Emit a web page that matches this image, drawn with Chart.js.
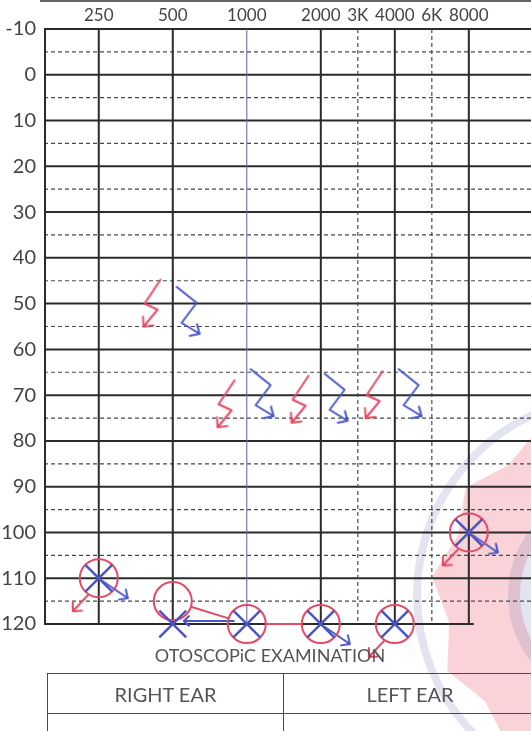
<!DOCTYPE html>
<html>
<head>
<meta charset="utf-8">
<script src="https://cdn.jsdelivr.net/npm/chart.js@4/dist/chart.umd.min.js"></script>
<style>
  html, body { margin: 0; padding: 0; background: #fff; }
  #wrap { position: relative; width: 531px; height: 731px; overflow: hidden; }
  #audiogram { position: absolute; left: 0; top: 0; }
  .title { position: absolute; left: 0; top: 644px; width: 540px; text-align: center;
           font: 18px Lato, sans-serif; color: #555; }
  table.ears { position: absolute; left: 47px; top: 673px; width: 490px; border-collapse: collapse;
               font-family: Lato, sans-serif; color: #555; }
  table.ears td { border: 1.5px solid #4a4a4a; text-align: center; font-size: 20px; padding: 0; }
  table.ears tr.head td { height: 39px; }
  table.ears tr.body td { height: 60px; }
</style>
</head>
<body>
<div id="wrap">
  <canvas id="audiogram" width="531" height="731"></canvas>
  <div class="title">OTOSCOPiC EXAMINATION</div>
  <table class="ears">
    <tr class="head"><td style="width:235px">RIGHT EAR</td><td>LEFT EAR</td></tr>
    <tr class="body"><td></td><td></td></tr>
  </table>
</div>
<script>
// frequency columns: octave step from 250 Hz, 3K and 6K sit half way
const freqLabels = ['250', '500', '1000', '2000', '3K', '4000', '6K', '8000'];
const freqSteps = [0, 1, 2, 3, 3.5, 4, 4.5, 5];
const dbTicks = [-10, 0, 10, 20, 30, 40, 50, 60, 70, 80, 90, 100, 110, 120];
const dbHalfLines = [-5, 5, 15, 25, 35, 45, 55, 65, 75, 85, 95, 105, 115];

// air conduction: right ear (red O), left ear (blue X)
const airSteps = [0, 1, 2, 3, 4, 5];
const rightAirDb = [110, 115, 120, 120, 120, 100];
const leftAirDb = [110, 120, 120, 120, 120, 100];

// no response arrows
const rightNoRespSteps = [0, 4, 5];
const rightNoRespDb = [110, 120, 100];
const leftNoRespSteps = [0, 3, 5];
const leftNoRespDb = [110, 120, 100];

// bone conduction zigzags
const boneSteps = [1, 2, 3, 4];
const rightBoneDb = [50, 72, 71, 70];
const leftBoneDb = [52, 70, 71, 70];

// symbols joined by a line
const rightJoinSteps = [1, 2, 3];
const leftJoinSteps = [2, 1];

const RED = '#e44a66';
const BLUE = '#4a56c6';

const arrowHead = (g, x0, y0, x1, y1, len) => {
    const a = Math.atan2(y1 - y0, x1 - x0);
    g.moveTo(x1, y1);
    g.lineTo(x1 - len * Math.cos(a - 0.75), y1 - len * Math.sin(a - 0.75));
    g.moveTo(x1, y1);
    g.lineTo(x1 - len * Math.cos(a + 0.75), y1 - len * Math.sin(a + 0.75));
};

// arrow drawn out of the symbol centre, canvas centred on the point
const noRespStyle = (color, x0, y0, x1, y1) => {
    const c = document.createElement('canvas');
    c.width = 80; c.height = 80;
    const g = c.getContext('2d');
    g.strokeStyle = color; g.lineWidth = 2; g.lineCap = 'round';
    g.beginPath();
    g.moveTo(40 + x0, 40 + y0);
    g.lineTo(40 + x1, 40 + y1);
    arrowHead(g, 40 + x0, 40 + y0, 40 + x1, 40 + y1, 9);
    g.stroke();
    return c;
};

const zigzagStyle = (color, right) => {
    const c = document.createElement('canvas');
    c.width = 34; c.height = 60;
    const g = c.getContext('2d');
    g.strokeStyle = color; g.lineWidth = 2; g.lineCap = 'round'; g.lineJoin = 'round';
    g.beginPath();
    if (right) {
        g.moveTo(24, 6); g.lineTo(8, 30); g.lineTo(21, 36); g.lineTo(7, 53);
        arrowHead(g, 21, 36, 7, 53, 10);
    } else {
        g.moveTo(6, 4); g.lineTo(26, 20); g.lineTo(11, 40); g.lineTo(29, 51);
        arrowHead(g, 11, 40, 29, 51, 10);
    }
    g.stroke();
    return c;
};

const points = (steps, values, shift) =>
    steps.map((s, i) => ({ x: s + (shift || 0), y: values[i] }));

const paperPlugin = {
    id: 'paper',
    beforeDraw(chart) {
        const ctx = chart.ctx;
        ctx.save();
        ctx.fillStyle = '#fff';
        ctx.fillRect(0, 0, chart.width, chart.height);
        // faint seal printed in the corner of the form
        const cx = 615, cy = 595;
        ctx.fillStyle = 'rgba(236, 96, 116, 0.28)';
        ctx.beginPath();
        for (let i = 0; i <= 24; i++) {
            const ang = (i * Math.PI) / 12 + 0.1;
            const r = i % 2 ? 168 : 184;
            ctx.lineTo(cx + r * Math.cos(ang), cy + r * Math.sin(ang));
        }
        ctx.fill();
        ctx.fillStyle = '#fff';
        ctx.beginPath(); ctx.arc(cx, cy, 95, 0, Math.PI * 2); ctx.fill();
        ctx.strokeStyle = 'rgba(110, 118, 175, 0.2)';
        ctx.lineWidth = 8;
        ctx.beginPath(); ctx.arc(cx, cy, 198, 0, Math.PI * 2); ctx.stroke();
        ctx.lineWidth = 24;
        ctx.beginPath(); ctx.arc(cx, cy, 95, 0, Math.PI * 2); ctx.stroke();
        ctx.restore();
        ctx.save();
        ctx.strokeStyle = '#333';
        ctx.lineWidth = 1.5;
        ctx.beginPath(); ctx.moveTo(40, 1); ctx.lineTo(chart.width, 1); ctx.stroke();
        ctx.restore();
    }
};

const gridPlugin = {
    id: 'audioGrid',
    beforeDatasetsDraw(chart) {
        const { ctx, chartArea: a, scales: { x, y } } = chart;
        ctx.save();
        ctx.lineCap = 'butt';
        const hLine = (db, dashed, right) => {
            const py = y.getPixelForValue(db);
            ctx.setLineDash(dashed ? [4, 3] : []);
            ctx.lineWidth = dashed ? 1.2 : 2;
            ctx.strokeStyle = dashed ? '#4a4a4a' : '#2b2b2b';
            ctx.beginPath(); ctx.moveTo(a.left, py); ctx.lineTo(right, py); ctx.stroke();
        };
        dbHalfLines.forEach((db) => hLine(db, true, a.right));
        dbTicks.forEach((db, i) => {
            // the bottom rule stops just past the 8000 column
            const last = i === dbTicks.length - 1;
            hLine(db, false, last ? x.getPixelForValue(5) + 5 : a.right);
        });
        const vLine = (px, dashed, color, width) => {
            ctx.setLineDash(dashed ? [4, 3] : []);
            ctx.lineWidth = width;
            ctx.strokeStyle = color;
            ctx.beginPath(); ctx.moveTo(px, a.top); ctx.lineTo(px, a.bottom); ctx.stroke();
        };
        vLine(a.left + 1, false, '#2b2b2b', 2);
        freqSteps.forEach((s) => {
            const px = x.getPixelForValue(s);
            if (s % 1) vLine(px, true, '#4a4a4a', 1.2);
            else if (s === 2) vLine(px, false, '#6c6ca6', 1.1);
            else vLine(px, false, '#2b2b2b', 2);
        });
        ctx.restore();
    }
};

const joinPlugin = {
    id: 'joins',
    beforeDatasetsDraw(chart) {
        const { ctx, scales: { x, y } } = chart;
        const px = (s, arr) => ({ x: x.getPixelForValue(s), y: y.getPixelForValue(arr[airSteps.indexOf(s)]) });
        const seg = (p, q, cut0, cut1) => {
            const d = Math.hypot(q.x - p.x, q.y - p.y);
            const ux = (q.x - p.x) / d, uy = (q.y - p.y) / d;
            return [p.x + ux * cut0, p.y + uy * cut0, q.x - ux * cut1, q.y - uy * cut1];
        };
        ctx.save();
        ctx.lineWidth = 2; ctx.lineCap = 'round';
        ctx.strokeStyle = RED;
        ctx.beginPath();
        for (let i = 0; i < rightJoinSteps.length - 1; i++) {
            const [x0, y0, x1, y1] = seg(px(rightJoinSteps[i], rightAirDb), px(rightJoinSteps[i + 1], rightAirDb), 19, 19);
            ctx.moveTo(x0, y0); ctx.lineTo(x1, y1);
        }
        ctx.stroke();
        ctx.strokeStyle = BLUE;
        ctx.beginPath();
        for (let i = 0; i < leftJoinSteps.length - 1; i++) {
            const [x0, y0, x1, y1] = seg(px(leftJoinSteps[i], leftAirDb), px(leftJoinSteps[i + 1], leftAirDb), 13, 11);
            ctx.moveTo(x0, y0 - 3); ctx.lineTo(x1, y1 - 3);
            arrowHead(ctx, x0, y0 - 3, x1, y1 - 3, 7);
        }
        ctx.stroke();
        ctx.restore();
    }
};

new Chart(document.getElementById('audiogram'), {
    type: 'scatter',
    data: {
        datasets: [
            {
                data: points(airSteps, leftAirDb),
                pointStyle: 'crossRot', pointRadius: 19, borderWidth: 2.5,
                borderColor: BLUE, backgroundColor: 'transparent', clip: false,
            },
            {
                data: points(airSteps, rightAirDb),
                pointStyle: 'circle', pointRadius: 19, borderWidth: 2,
                borderColor: RED, backgroundColor: 'transparent', clip: false,
            },
            {
                data: points(rightNoRespSteps, rightNoRespDb),
                pointStyle: noRespStyle(RED, -11, 17, -26, 33), pointRadius: 5, clip: false,
            },
            {
                data: points(leftNoRespSteps, leftNoRespDb),
                pointStyle: noRespStyle(BLUE, 4, 3, 29, 20), pointRadius: 5, clip: false,
            },
            {
                data: points(boneSteps, rightBoneDb, -0.26),
                pointStyle: zigzagStyle(RED, true), pointRadius: 5, clip: false,
            },
            {
                data: points(boneSteps, leftBoneDb, 0.2),
                pointStyle: zigzagStyle(BLUE, false), pointRadius: 5, clip: false,
            },
        ],
    },
    options: {
        responsive: false,
        animation: false,
        events: [],
        layout: { autoPadding: false, padding: { left: 0, top: 0, right: 0, bottom: 107 } },
        plugins: { legend: { display: false }, tooltip: { enabled: false } },
        scales: {
            x: {
                type: 'linear', position: 'top', min: -0.74, max: 5.84,
                grid: { display: false, drawTicks: false }, border: { display: false },
                afterBuildTicks: (s) => { s.ticks = freqSteps.map((v) => ({ value: v })); },
                afterFit: (s) => { s.height = 29; s.paddingLeft = 0; s.paddingRight = 0; },
                ticks: {
                    autoSkip: false, maxRotation: 0, padding: 3, color: '#444',
                    font: { family: 'Lato', size: 17 },
                    callback: (v) => freqLabels[freqSteps.indexOf(v)],
                },
            },
            y: {
                type: 'linear', reverse: true, min: -10, max: 120,
                grid: { display: false, drawTicks: false }, border: { display: false },
                afterBuildTicks: (s) => { s.ticks = dbTicks.map((v) => ({ value: v })); },
                afterFit: (s) => { s.width = 44; s.paddingTop = 0; s.paddingBottom = 0; },
                ticks: { padding: 8, color: '#444', font: { family: 'Lato', size: 20 } },
            },
        },
    },
    plugins: [paperPlugin, gridPlugin, joinPlugin],
});
</script>
</body>
</html>
